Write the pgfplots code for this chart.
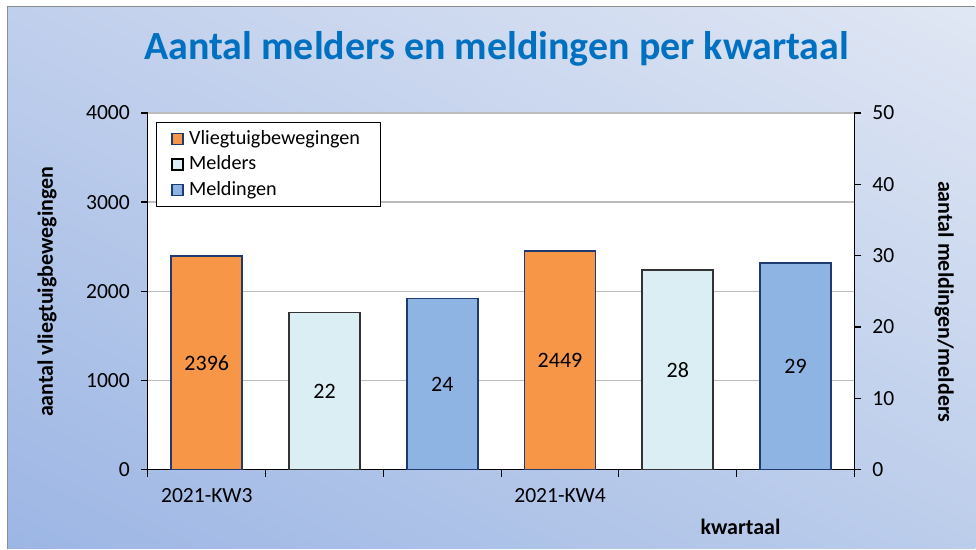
\documentclass[border=0pt]{standalone}
\usepackage{fontspec}
\setmainfont{Carlito}
\usepackage{pgfplots}
\usetikzlibrary{shadings}
\pgfplotsset{compat=1.18}
\definecolor{bgUL}{HTML}{C0CFEC}
\definecolor{bgUR}{HTML}{E0E7F4}
\definecolor{bgLL}{HTML}{9CB6E4}
\definecolor{bgLR}{HTML}{BCCDEB}
\definecolor{vlOrange}{HTML}{F79646}
\definecolor{mlLight}{HTML}{DAEEF3}
\definecolor{mdBlue}{HTML}{8EB4E3}
\definecolor{navyB}{HTML}{1F3A70}
\definecolor{titleBlue}{HTML}{0070C0}
\definecolor{gridG}{HTML}{BDBDBD}
\pgfplotsset{
  /pgf/number format/1000 sep={},
  /pgf/number format/assume math mode=true,
  common/.style={
    at={(74pt,39.5pt)}, anchor=south west, scale only axis,
    width=353.5pt, height=178.5pt,
    xmin=-0.5, xmax=5.5, ymin=0,
    bar width=35.5pt,
    tick align=outside, major tick length=3.5pt,
    tick style={black, line width=0.6pt},
    axis line style={black, line width=0.6pt},
    tick label style={font=\fontsize{10.8}{12}\selectfont},
    visualization depends on={rawy/2 \as \halfy},
    nodes near coords style={anchor=center, shift={(axis direction cs:0,-\halfy)}, font=\fontsize{11}{12}\selectfont, text=black},
  },
}
\begin{document}
\begin{tikzpicture}
\path[fill=white] (0,0) rectangle (488pt,274.5pt);
\shade[upper left=bgUL, upper right=bgUR, lower left=bgLL, lower right=bgLR] (4pt,0) rectangle (488pt,271pt);
\draw[gray!90, line width=0.7pt] (3.7pt,0) -- (3.7pt,271.2pt) -- (488pt,271.2pt);

\begin{axis}[common,
  axis background/.style={fill=white},
  ymax=4000, ytick={0,1000,...,4000},
  ymajorgrids, grid style={gridG, line width=0.7pt},
  axis x line*=bottom, axis y line*=left,
  xtick={-0.5,0.5,...,5.5}, xticklabels={},
  extra x ticks={0,3}, extra x tick labels={2021-KW3,2021-KW4},
  extra x tick style={major tick length=0pt, grid=none, tick label style={yshift=-6pt}},
  yticklabel style={xshift=-2pt},
]
\addplot[ybar, bar shift=0pt, fill=vlOrange, draw=navyB, line width=0.8pt, nodes near coords] coordinates {(0,2396) (3,2449)};
\end{axis}

\begin{axis}[common,
  ymax=50, ytick={0,10,...,50},
  axis y line*=right, axis x line=none,
  yticklabel style={xshift=2pt},
  legend cell align=left,
  legend style={at={(0,1)}, anchor=north west, xshift=4pt, yshift=-4.5pt,
    draw=black, line width=0.6pt, fill=white,
    font=\fontsize{10.1}{11}\selectfont, inner xsep=7.5pt, inner ysep=2pt, row sep=0.2pt,
    nodes={inner xsep=2.6pt}},
]
\addplot[ybar, bar shift=0pt, fill=mlLight, draw=black!80, line width=0.8pt, nodes near coords, forget plot] coordinates {(1,22) (4,28)};
\addplot[ybar, bar shift=0pt, fill=mdBlue, draw=navyB, line width=0.8pt, nodes near coords, forget plot] coordinates {(2,24) (5,29)};
\addlegendimage{legend image code/.code={\draw[fill=vlOrange, draw=navyB, line width=0.7pt] (0pt,-2.75pt) rectangle (5.5pt,2.75pt);}}
\addlegendentry{Vliegtuigbewegingen}
\addlegendimage{legend image code/.code={\draw[fill=mlLight, draw=black, line width=0.7pt] (0pt,-2.75pt) rectangle (5.5pt,2.75pt);}}
\addlegendentry{Melders}
\addlegendimage{legend image code/.code={\draw[fill=mdBlue, draw=navyB, line width=0.7pt] (0pt,-2.75pt) rectangle (5.5pt,2.75pt);}}
\addlegendentry{Meldingen}
\end{axis}

\node[font=\fontsize{20}{24}\selectfont\bfseries, text=titleBlue] at (248.5pt,250pt) {Aantal melders en meldingen per kwartaal};
\node[font=\fontsize{11}{13}\selectfont\bfseries, rotate=90] at (23.5pt,128.5pt) {aantal vliegtuigbewegingen};
\node[font=\fontsize{11}{13}\selectfont\bfseries, rotate=-90] at (472.5pt,123.5pt) {aantal meldingen/melders};
\node[font=\fontsize{11}{13}\selectfont\bfseries] at (370.5pt,11pt) {kwartaal};
\end{tikzpicture}
\end{document}
